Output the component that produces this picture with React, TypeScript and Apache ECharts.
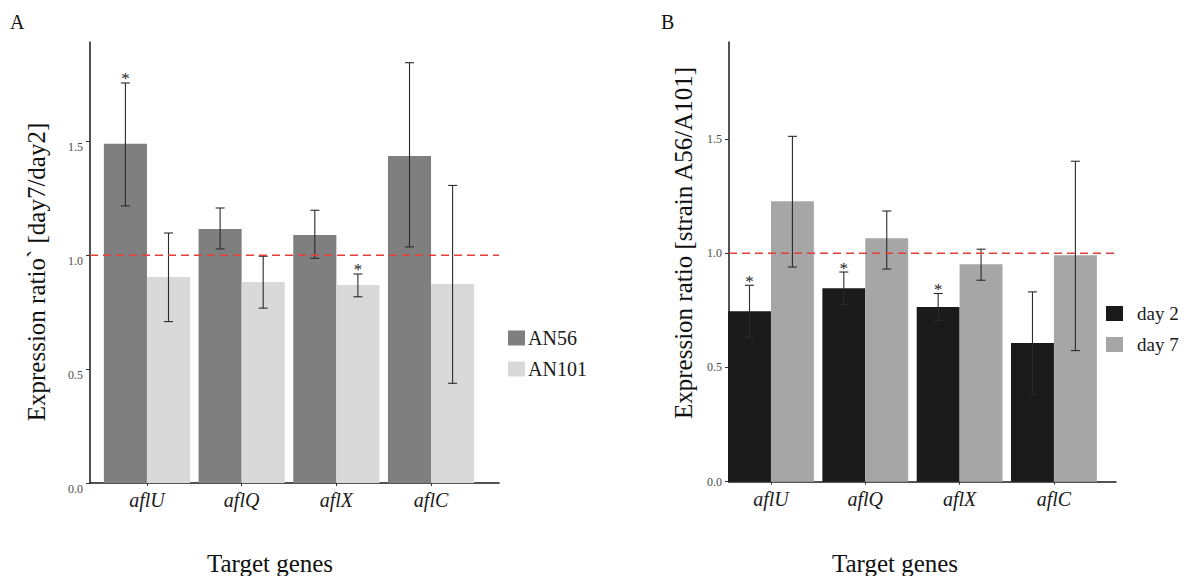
import React, { useEffect, useRef } from "react";
import * as echarts from "echarts";

const genes = ["aflU", "aflQ", "aflX", "aflC"];
const yTicks = [0, 0.5, 1.0, 1.5];
const refLine = 1.0;

// Panel A: day7/day2 ratio
const an56 = [1.49, 1.116, 1.089, 1.436];
const an56Low = [1.217, 1.028, 0.987, 1.037];
const an56High = [1.757, 1.208, 1.198, 1.846];
const an56Star = [1, 0, 0, 0];
const an101 = [0.905, 0.883, 0.87, 0.874];
const an101Low = [0.709, 0.768, 0.818, 0.438];
const an101High = [1.098, 0.996, 0.918, 1.307];
const an101Star = [0, 0, 1, 0];

// Panel B: strain A56/A101 ratio
const day2 = [0.746, 0.847, 0.765, 0.607];
const day2Low = [0.632, 0.776, 0.706, 0.383];
const day2High = [0.86, 0.918, 0.824, 0.831];
const day2Star = [1, 1, 1, 0];
const day7 = [1.228, 1.066, 0.952, 0.991];
const day7Low = [0.94, 0.931, 0.882, 0.574];
const day7High = [1.512, 1.185, 1.018, 1.403];
const day7Star = [0, 0, 0, 0];

const SERIF = "Liberation Serif";
const GAP = 0.09;

function errSeries(xi: number, low: number[], high: number[], star: number[], sign: number) {
  return {
    type: "custom",
    xAxisIndex: xi,
    yAxisIndex: xi,
    z: 5,
    silent: true,
    encode: { x: 0, y: [1, 2] },
    data: genes.map((_, i) => [i, low[i], high[i], star[i]]),
    renderItem: (params: any, api: any) => {
      const i = api.value(0);
      const band = api.size([1, 0])[0];
      const bw = (band * (1 - GAP)) / 2;
      const lo = api.coord([i, api.value(1)]);
      const hi = api.coord([i, api.value(2)]);
      const x = lo[0] + (sign * bw) / 2;
      const c = 4.5;
      const st = { stroke: "#2a2a2a", lineWidth: 1.1 };
      const children: any[] = [
        { type: "line", shape: { x1: x, y1: lo[1], x2: x, y2: hi[1] }, style: st },
        { type: "line", shape: { x1: x - c, y1: lo[1], x2: x + c, y2: lo[1] }, style: st },
        { type: "line", shape: { x1: x - c, y1: hi[1], x2: x + c, y2: hi[1] }, style: st },
      ];
      if (api.value(3)) {
        children.push({
          type: "text",
          style: {
            text: "*",
            x: x,
            y: hi[1] - 4,
            align: "center",
            verticalAlign: "middle",
            fontSize: 17,
            fontFamily: SERIF,
            fill: "#222",
          },
        });
      }
      return { type: "group", children };
    },
  };
}

function outerY(gi: number, max: number, shiftDown: boolean) {
  return {
    gridIndex: gi,
    type: "value",
    min: 0,
    max: max,
    axisLine: { show: true, lineStyle: { color: "#1a1a1a", width: 1.5 } },
    axisTick: { show: true, length: 4, lineStyle: { color: "#333" }, customValues: yTicks },
    axisLabel: {
      customValues: yTicks,
      formatter: (v: number) => v.toFixed(1),
      fontSize: 12,
      fontFamily: SERIF,
      color: "#4d4d4d",
      margin: 7,
      verticalAlign: shiftDown ? "top" : "middle",
      lineHeight: 12,
    },
    splitLine: { show: false },
  };
}

function outerX(gi: number) {
  return {
    gridIndex: gi,
    type: "value",
    min: 0,
    max: 1,
    axisLine: { show: true, lineStyle: { color: "#1a1a1a", width: 1.5 } },
    axisTick: { show: false },
    axisLabel: { show: false },
    splitLine: { show: false },
  };
}

function innerX(gi: number) {
  return {
    gridIndex: gi,
    type: "category",
    data: genes,
    axisLine: { show: false },
    axisTick: { show: true, alignWithLabel: true, length: 3, lineStyle: { color: "#333" } },
    axisLabel: {
      fontSize: 20,
      fontStyle: "italic",
      fontFamily: SERIF,
      color: "#1a1a1a",
      margin: 7,
    },
    splitLine: { show: false },
  };
}

function innerY(gi: number, max: number) {
  return { gridIndex: gi, type: "value", min: 0, max: max, show: false };
}

function refSeries(gi: number) {
  return {
    type: "line",
    xAxisIndex: gi,
    yAxisIndex: gi,
    data: [
      [0, refLine],
      [1, refLine],
    ],
    showSymbol: false,
    silent: true,
    z: 6,
    lineStyle: { color: "#e3403a", width: 1.5, type: [8, 5] },
  };
}

function barSeries(name: string, gi: number, data: number[], color: string) {
  return {
    type: "bar",
    name,
    xAxisIndex: gi,
    yAxisIndex: gi,
    data,
    barGap: "0%",
    barCategoryGap: GAP * 100 + "%",
    itemStyle: { color },
    silent: true,
  };
}

export default function App() {
  const ref = useRef<HTMLDivElement>(null);
  useEffect(() => {
    const chart = echarts.init(ref.current!, null, { renderer: "svg" });
    const yMaxA = 1.937;
    const yMaxB = 1.925;
    chart.setOption({
      animation: false,
      backgroundColor: "#ffffff",
      grid: [
        { left: 90, top: 42, width: 409, height: 441 },
        { left: 99.6, top: 42, width: 378.8, height: 441 },
        { left: 729, top: 42, width: 387, height: 439.7 },
        { left: 723.8, top: 42, width: 377.3, height: 439.7 },
      ],
      xAxis: [outerX(0), innerX(1), outerX(2), innerX(3)],
      yAxis: [outerY(0, yMaxA, true), innerY(1, yMaxA), outerY(2, yMaxB, false), innerY(3, yMaxB)],
      legend: [
        {
          data: ["AN56", "AN101"],
          orient: "vertical",
          left: 508,
          top: 328,
          padding: 0,
          icon: "rect",
          itemWidth: 17,
          itemHeight: 15,
          itemGap: 11,
          selectedMode: false,
          textStyle: { fontSize: 20, fontFamily: SERIF, color: "#1a1a1a", padding: [0, 0, 0, -2] },
        },
        {
          data: ["day 2", "day 7"],
          orient: "vertical",
          left: 1106,
          top: 304,
          padding: 0,
          icon: "rect",
          itemWidth: 17,
          itemHeight: 15,
          itemGap: 12,
          selectedMode: false,
          textStyle: { fontSize: 19, fontFamily: SERIF, color: "#1a1a1a", padding: [0, 0, 0, 9] },
        },
      ],
      graphic: [
        { type: "text", left: 10, top: 12, style: { text: "A", fontSize: 20, fontFamily: SERIF, fill: "#111" } },
        { type: "text", left: 661, top: 12, style: { text: "B", fontSize: 20, fontFamily: SERIF, fill: "#111" } },
        {
          type: "text",
          x: 36,
          y: 272,
          rotation: Math.PI / 2,
          style: {
            text: "Expression ratio` [day7/day2]",
            fontSize: 25,
            fontFamily: SERIF,
            fill: "#111",
            align: "center",
            verticalAlign: "middle",
          },
        },
        {
          type: "text",
          x: 683,
          y: 243,
          rotation: Math.PI / 2,
          style: {
            text: "Expression ratio [strain A56/A101]",
            fontSize: 25,
            fontFamily: SERIF,
            fill: "#111",
            align: "center",
            verticalAlign: "middle",
          },
        },
        {
          type: "text",
          x: 270,
          y: 563,
          style: {
            text: "Target genes",
            fontSize: 25,
            lineHeight: 22,
            fontFamily: SERIF,
            fill: "#111",
            align: "center",
            verticalAlign: "middle",
          },
        },
        {
          type: "text",
          x: 895,
          y: 563,
          style: {
            text: "Target genes",
            fontSize: 25,
            lineHeight: 22,
            fontFamily: SERIF,
            fill: "#111",
            align: "center",
            verticalAlign: "middle",
          },
        },
      ],
      series: [
        barSeries("AN56", 1, an56, "#7f7f7f"),
        barSeries("AN101", 1, an101, "#d9d9d9"),
        errSeries(1, an56Low, an56High, an56Star, -1),
        errSeries(1, an101Low, an101High, an101Star, 1),
        refSeries(0),
        barSeries("day 2", 3, day2, "#1a1a1a"),
        barSeries("day 7", 3, day7, "#a6a6a6"),
        errSeries(3, day2Low, day2High, day2Star, -1),
        errSeries(3, day7Low, day7High, day7Star, 1),
        refSeries(2),
      ],
    });
    return () => chart.dispose();
  }, []);
  return (
    <div
      ref={ref}
      style={{ position: "fixed", left: 0, top: 0, width: 1184, height: 576, background: "#fff" }}
    />
  );
}
